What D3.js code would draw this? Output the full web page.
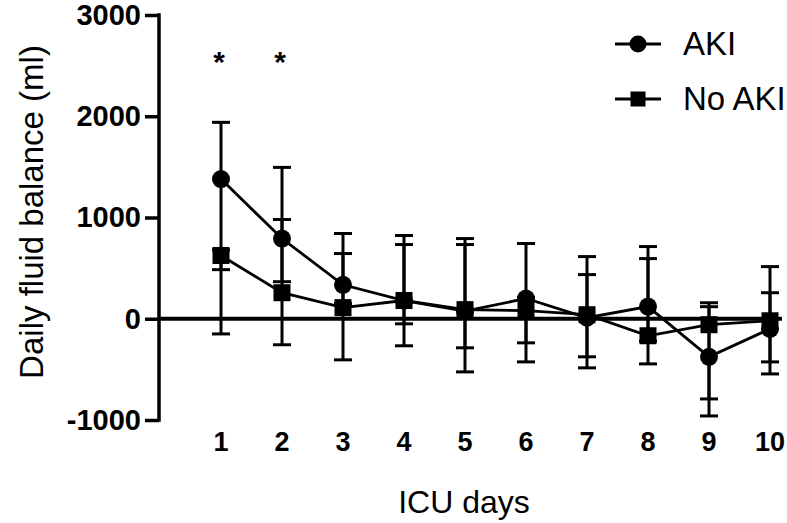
<!DOCTYPE html>
<html>
<head>
<meta charset="utf-8">
<script src="https://cdn.jsdelivr.net/npm/d3@7"></script>
<style>
  body { margin: 0; background: #fff; }
  svg { display: block; font-family: "Liberation Sans", Arial, sans-serif; }
</style>
</head>
<body>
<div id="chart"></div>
<script>
// values (ml)
var days = [1, 2, 3, 4, 5, 6, 7, 8, 9, 10];
var akiMid = [1380, 792, 335, 180, 75, 200, 10, 120, -376, -100];
var akiHi = [1940, 1495, 842, 822, 792, 743, 614, 713, 119, 515];
var akiLo = [-150, 366, 150, -267, -525, -426, -485, -446, -960, -545];
var noAkiMid = [625, 257, 110, 180, 90, 80, 40, -168, -59, -20];
var noAkiHi = [680, 980, 644, 733, 733, 210, 436, 594, 158, 257];
var noAkiLo = [485, -257, -406, -50, -287, -238, -376, -220, -792, -426];
var yTicks = [-1000, 0, 1000, 2000, 3000];
var starDays = [1, 2];

var width = 787,
    height = 523,
    margin = { left: 159, right: 5, top: 15, bottom: 103 };

var x = d3.scaleLinear().domain([1, 10]).range([221, 770]);
var y = d3.scaleLinear().domain([-1000, 3000]).range([height - margin.bottom, margin.top]);

var series = [
    { name: "AKI", shape: "circle", mid: akiMid, hi: akiHi, lo: akiLo },
    { name: "No AKI", shape: "square", mid: noAkiMid, hi: noAkiHi, lo: noAkiLo }
];

var svg = d3.select("#chart").append("svg")
    .attr("width", width)
    .attr("height", height);

// y axis (plain hyphen for negatives, like the original)
var yAxis = d3.axisLeft(y)
    .tickValues(yTicks)
    .tickSize(14)
    .tickPadding(4)
    .tickFormat(function(d) { return String(d); });

var yG = svg.append("g")
    .attr("transform", "translate(" + margin.left + ",0)")
    .call(yAxis);
yG.select(".domain").attr("d", "M0," + y(3000) + "V" + y(-1000))
    .attr("stroke", "#000").attr("stroke-width", 3.5).attr("stroke-linecap", "square");
yG.selectAll(".tick line").attr("stroke", "#000").attr("stroke-width", 3.5);
yG.selectAll(".tick text")
    .attr("fill", "#000")
    .style("font-size", "29px")
    .style("font-weight", "bold");

// zero line acts as x axis
svg.append("line")
    .attr("x1", margin.left)
    .attr("x2", width - margin.right)
    .attr("y1", y(0))
    .attr("y2", y(0))
    .attr("stroke", "#000")
    .attr("stroke-width", 4);

// x tick labels
svg.append("g").selectAll("text").data(days).enter().append("text")
    .attr("x", function(d) { return x(d); })
    .attr("y", 451)
    .attr("text-anchor", "middle")
    .style("font-size", "27px")
    .style("font-weight", "bold")
    .text(function(d) { return d; });

// axis titles
svg.append("text")
    .attr("x", 464)
    .attr("y", 513)
    .attr("text-anchor", "middle")
    .style("font-size", "32px")
    .text("ICU days");

svg.append("text")
    .attr("transform", "translate(43,212) rotate(-90)")
    .attr("text-anchor", "middle")
    .style("font-size", "33px")
    .text("Daily fluid balance (ml)");

// connecting lines
var line = d3.line()
    .x(function(d) { return x(d.day); })
    .y(function(d) { return y(d.v); });

series.forEach(function(s) {
    var pts = days.map(function(d, i) { return { day: d, v: s.mid[i] }; });
    svg.append("path")
        .datum(pts)
        .attr("d", line)
        .attr("fill", "none")
        .attr("stroke", "#000")
        .attr("stroke-width", 2.8);
});

// error bars
series.forEach(function(s) {
    var g = svg.append("g").attr("stroke", "#000").attr("stroke-width", 3);
    days.forEach(function(d, i) {
        g.append("line")
            .attr("x1", x(d)).attr("x2", x(d))
            .attr("y1", y(s.lo[i])).attr("y2", y(s.hi[i]));
        [s.lo[i], s.hi[i]].forEach(function(v) {
            g.append("line")
                .attr("x1", x(d) - 9).attr("x2", x(d) + 9)
                .attr("y1", y(v)).attr("y2", y(v));
        });
    });
});

// markers
function drawMarker(g, shape, cx, cy, size) {
    if (shape === "circle") {
        g.append("circle").attr("cx", cx).attr("cy", cy).attr("r", size / 2).attr("fill", "#000");
    } else {
        g.append("rect").attr("x", cx - size / 2).attr("y", cy - size / 2)
            .attr("width", size).attr("height", size).attr("fill", "#000");
    }
}

series.forEach(function(s) {
    var g = svg.append("g");
    days.forEach(function(d, i) {
        drawMarker(g, s.shape, x(d), y(s.mid[i]), s.shape === "circle" ? 18 : 17);
    });
});

// significance stars
svg.append("g").selectAll("text").data(starDays).enter().append("text")
    .attr("x", function(d) { return x(d) - 2; })
    .attr("y", 72)
    .attr("text-anchor", "middle")
    .style("font-size", "30px")
    .style("font-weight", "bold")
    .text("*");

// legend
var legend = svg.append("g");
series.forEach(function(s, i) {
    var ly = 44 + i * 55;
    legend.append("line")
        .attr("x1", 615).attr("x2", 661)
        .attr("y1", ly).attr("y2", ly)
        .attr("stroke", "#000").attr("stroke-width", 2.8);
    drawMarker(legend, s.shape, 638, ly, s.shape === "circle" ? 17 : 15);
    legend.append("text")
        .attr("x", 683)
        .attr("y", ly + 11)
        .style("font-size", "33px")
        .text(s.name);
});
</script>
</body>
</html>
